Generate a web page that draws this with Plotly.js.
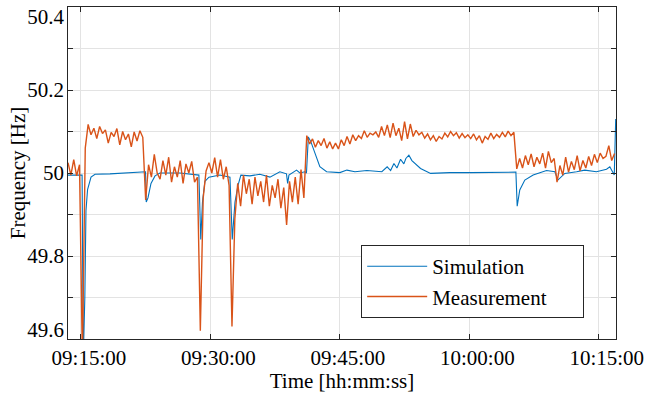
<!DOCTYPE html>
<html>
<head>
<meta charset="utf-8">
<script src="https://cdn.plot.ly/plotly-3.0.1.min.js"></script>
<style>html,body{margin:0;padding:0;background:#fff;}#chart{width:646px;height:393px;}</style>
</head>
<body>
<div id="chart"></div>
<script>
// ---- data ----
const day = '2023-01-01 ';
const seriesNames = ['Simulation', 'Measurement'];
const tickTimes = ['09:15:00', '09:30:00', '09:45:00', '10:00:00', '10:15:00'];
const xRange = ['09:13:30', '10:17:00'];
const yRange = [49.6, 50.4];
const yTicks = [49.6, 49.8, 50, 50.2, 50.4];
const yTickLabels = ['49.6', '49.8', '50', '50.2', '50.4'];
// where the reference prints the labels (end labels are pulled inside the frame)
const yLabelPos = [49.622, 49.8, 50, 50.2, 50.376];

// Measurement: sampled every 20 s starting 09:13:30
const measStart = '09:13:30';
const measStepSec = 20;
const measValues = [
  50.025, 49.995, 50.032, 49.993, 50.02,
  49.55,
  50.06, 50.117,
  50.092, 50.108, 50.083, 50.112, 50.095, 50.104, 50.072, 50.098, 50.088, 50.107,
  50.068, 50.1, 50.08, 50.094, 50.063, 50.099, 50.077, 50.102, 50.086,
  49.935,
  50.02, 49.99, 50.045, 50.0, 49.985, 50.03, 49.995, 50.038, 49.978, 50.015,
  49.99, 50.03, 49.975, 50.022, 50.0, 50.028, 49.978, 49.99,
  49.62,
  49.94, 50.005, 50.025, 50.0, 50.037, 49.99, 50.032, 49.985, 50.015, 49.97,
  49.63,
  49.89, 49.975, 49.92, 49.995, 49.95, 49.985, 49.925, 49.99, 49.945, 49.98,
  49.93, 49.995, 49.92, 49.97, 49.94, 49.985, 49.915, 49.965, 49.875, 49.98,
  49.93, 49.99, 49.925, 50.008, 49.94,
  50.09, 50.07, 50.082, 50.062, 50.078, 50.066, 50.083, 50.06, 50.075, 50.058,
  50.072, 50.058, 50.08, 50.066, 50.088, 50.07, 50.092, 50.078, 50.09, 50.083,
  50.102, 50.086, 50.096, 50.092, 50.099, 50.086, 50.112, 50.09, 50.116, 50.085,
  50.12, 50.09, 50.108, 50.078, 50.124, 50.082, 50.118, 50.088, 50.103, 50.092,
  50.098, 50.084, 50.094, 50.08, 50.09, 50.076, 50.088, 50.082, 50.096, 50.087,
  50.1, 50.09, 50.097, 50.084, 50.095, 50.085, 50.092,
  50.083, 50.094, 50.08, 50.09, 50.072, 50.088, 50.081, 50.096, 50.083, 50.093,
  50.086, 50.098, 50.087, 50.101, 50.09, 50.098,
  50.01, 50.035, 50.012, 50.042, 50.02, 50.046, 50.015, 50.038, 50.022, 50.048,
  50.012, 50.052, 50.025, 50.035, 49.978, 50.018, 49.995, 50.038, 50.002, 50.028,
  50.008, 50.042, 50.005, 50.03, 50.012, 50.04, 50.018, 50.045, 50.025, 50.048,
  50.035, 50.04, 50.066, 50.03, 50.047
];

// Simulation: irregular samples
const simTimes = [
  '09:13:30', '09:15:08', '09:15:16', '09:15:27', '09:15:35', '09:15:46', '09:16:10', '09:16:38',
  '09:18:22', '09:20:06', '09:22:11', '09:22:29', '09:22:34', '09:22:46', '09:23:07', '09:23:35',
  '09:24:09', '09:26:28', '09:28:40', '09:28:53', '09:29:05', '09:29:22', '09:29:50', '09:31:06',
  '09:32:16', '09:32:32', '09:32:51', '09:33:12', '09:33:32', '09:34:35', '09:35:44', '09:36:54',
  '09:38:03', '09:38:49', '09:38:57', '09:39:06', '09:39:59', '09:40:22', '09:40:57', '09:41:08',
  '09:41:21', '09:41:39', '09:42:07', '09:42:41', '09:43:28', '09:45:00', '09:45:49', '09:46:45',
  '09:48:08', '09:49:52', '09:50:29', '09:50:53', '09:51:16', '09:51:37', '09:52:02', '09:52:25',
  '09:52:39', '09:53:00', '09:53:21', '09:53:49', '09:54:21', '09:55:31', '09:57:45', '10:00:04',
  '10:02:23', '10:05:24', '10:05:33', '10:05:51', '10:06:26', '10:07:24', '10:08:57', '10:09:55',
  '10:10:16', '10:11:04', '10:12:26', '10:13:23', '10:14:44', '10:15:54', '10:16:17', '10:16:48',
  '10:16:58'
];
const simValues = [
  49.995, 49.995, 49.55, 49.7, 49.91, 49.96, 49.99, 49.997,
  49.998, 50.0, 50.004, 50.003, 49.93, 49.94, 49.975, 49.993,
  50.0, 50.0, 49.995, 49.84, 49.93, 49.98, 49.99, 49.995,
  49.99, 49.84, 49.93, 49.97, 49.995, 49.993, 49.997, 49.99,
  50.003, 49.998, 49.975, 49.995, 50.007, 50.0, 50.003, 50.0,
  50.087, 50.075, 50.048, 50.015, 50.003, 50.001, 50.007, 50.003,
  50.006, 50.003, 50.015, 50.006, 50.023, 50.012, 50.033, 50.022,
  50.035, 50.043, 50.03, 50.02, 50.011, 49.999, 50.001, 50.001,
  50.002, 50.002, 49.92, 49.959, 49.983, 49.995, 50.006, 50.003,
  49.983, 49.999, 50.003, 50.007, 50.003, 50.009, 50.015, 49.995,
  50.13
];

// ---- build ----
function toSec(s) { const p = s.split(':').map(Number); return p[0] * 3600 + p[1] * 60 + p[2]; }
function toStr(sec) {
  const h = Math.floor(sec / 3600), m = Math.floor((sec % 3600) / 60), s = sec % 60;
  const f = n => String(n).padStart(2, '0');
  return day + f(h) + ':' + f(m) + ':' + f(s);
}
const measT0 = toSec(measStart);
const measX = measValues.map((_, i) => toStr(measT0 + i * measStepSec));
const simX = simTimes.map(t => day + t);

const fontFam = "'Liberation Serif', 'Times New Roman', serif";
const axisCol = '#262626';
const gridCol = '#e3e3e3';
const fs = 21;
const pad = '\u00a0\u00a0\u00a0\u00a0\u00a0\u00a0';
const tf = { family: fontFam, size: fs, color: '#000' };

const traces = [
  { x: simX, y: simValues, type: 'scatter', mode: 'lines', name: seriesNames[0] + pad,
    xaxis: 'x', yaxis: 'y',
    line: { color: '#0072BD', width: 1.1 } },
  { x: measX, y: measValues, type: 'scatter', mode: 'lines', name: seriesNames[1] + pad,
    xaxis: 'x', yaxis: 'y2',
    line: { color: '#D95319', width: 1.4 } }
];

const layout = {
  width: 646, height: 393,
  margin: { l: 68, r: 30, t: 7, b: 54, pad: 0 },
  paper_bgcolor: '#fff', plot_bgcolor: '#fff',
  font: tf,
  showlegend: true,
  legend: {
    x: 0.535, y: 0.173, xanchor: 'left', yanchor: 'middle',
    bgcolor: '#fff', bordercolor: axisCol, borderwidth: 1,
    font: tf, itemwidth: 60, tracegroupgap: 0
  },
  xaxis: {
    type: 'date',
    range: [day + xRange[0], day + xRange[1]],
    tickmode: 'array',
    tickvals: tickTimes.map(t => day + t),
    ticktext: tickTimes,
    ticks: 'inside', ticklen: 5, tickcolor: axisCol,
    showline: true, linecolor: axisCol, linewidth: 1, mirror: 'ticks',
    showgrid: true, gridcolor: gridCol, gridwidth: 1,
    zeroline: false,
    ticklabelshift: 8, ticklabelstandoff: 0,
    tickfont: tf,
    title: { text: 'Time [hh:mm:ss]', font: tf, standoff: 7 }
  },
  yaxis: {
    range: yRange,
    tickmode: 'array', tickvals: yTicks, ticktext: yTickLabels,
    showticklabels: false,
    ticks: 'inside', ticklen: 5, tickcolor: axisCol,
    showline: true, linecolor: axisCol, linewidth: 1, mirror: 'ticks',
    showgrid: true, gridcolor: gridCol, gridwidth: 1,
    minor: { dtick: 0.1, tick0: 49.6, ticks: 'inside', ticklen: 5, tickcolor: axisCol, showgrid: true, gridcolor: gridCol, gridwidth: 1 },
    zeroline: false,
    title: { text: 'Frequency [Hz]', font: tf, standoff: 35 }
  },
  yaxis2: {
    overlaying: 'y', side: 'left', anchor: 'x',
    range: yRange,
    tickmode: 'array', tickvals: yLabelPos, ticktext: yTickLabels,
    ticks: '', showline: false, showgrid: false, zeroline: false,
    ticklabelstandoff: 3,
    tickfont: tf
  }
};

Plotly.newPlot('chart', traces, layout, { displayModeBar: false, staticPlot: true });
</script>
</body>
</html>
